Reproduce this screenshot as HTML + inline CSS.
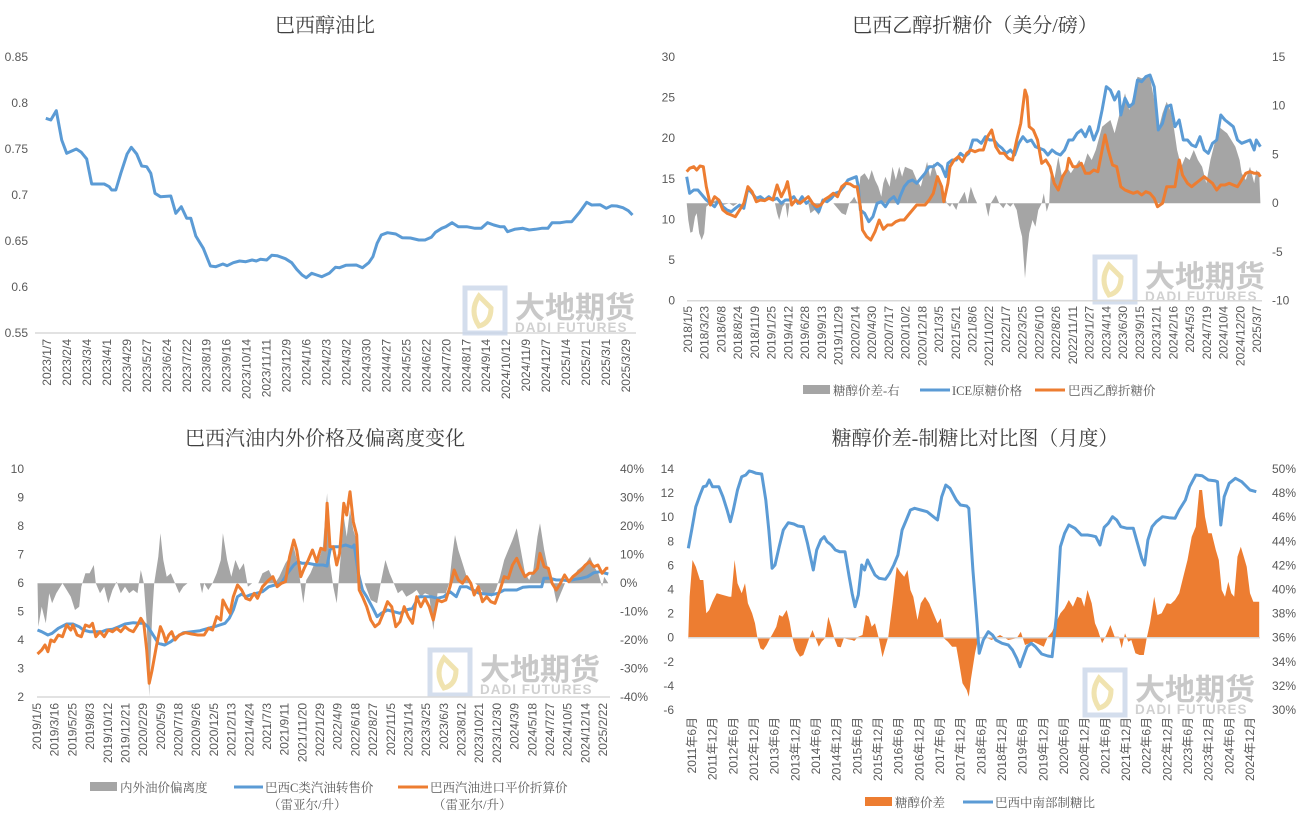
<!DOCTYPE html>
<html><head><meta charset="utf-8">
<style>
html,body{margin:0;padding:0;background:#fff;}
svg{display:block;font-family:"Liberation Sans","Noto Sans CJK SC",sans-serif;}
.t{font-size:20px;fill:#404040;text-anchor:middle;font-family:"Liberation Serif","Noto Serif CJK SC",serif;}
.ax{font-size:12px;fill:#595959;}
.lg{font-size:12.5px;fill:#595959;font-family:"Liberation Serif","Noto Serif CJK SC",serif;}
</style></head><body>
<svg id="s" width="1304" height="823" viewBox="0 0 1304 823" xmlns="http://www.w3.org/2000/svg">
<rect width="1304" height="823" fill="#fff"/>
<text class="t" x="325" y="32">巴西醇油比</text>
<text class="t" x="975" y="32">巴西乙醇折糖价（美分/磅）</text>
<text class="t" x="325" y="445">巴西汽油内外价格及偏离度变化</text>
<text class="t" x="975" y="445">糖醇价差-制糖比对比图（月度）</text>
<g id="g"></g>
<!-- legends -->
<rect x="803" y="385" width="27" height="9" fill="#a5a5a5"/><text class="lg" x="833" y="395">糖醇价差-右</text>
<line x1="920" y1="390" x2="950" y2="390" stroke="#5b9bd5" stroke-width="3"/><text class="lg" x="952" y="395">ICE原糖价格</text>
<line x1="1035" y1="390" x2="1065" y2="390" stroke="#ed7d31" stroke-width="3"/><text class="lg" x="1068" y="395">巴西乙醇折糖价</text>

<rect x="90" y="782" width="27" height="9" fill="#a5a5a5"/><text class="lg" x="120" y="792">内外油价偏离度</text>
<line x1="234" y1="787" x2="263" y2="787" stroke="#5b9bd5" stroke-width="3"/><text class="lg" x="265" y="792">巴西C类汽油转售价</text><text class="lg" x="268" y="809">（雷亚尔/升）</text>
<line x1="398" y1="787" x2="428" y2="787" stroke="#ed7d31" stroke-width="3"/><text class="lg" x="430" y="792">巴西汽油进口平价折算价</text><text class="lg" x="433" y="809">（雷亚尔/升）</text>

<rect x="865" y="797" width="27" height="9" fill="#ed7d31"/><text class="lg" x="895" y="807">糖醇价差</text>
<line x1="963" y1="802" x2="993" y2="802" stroke="#5b9bd5" stroke-width="3"/><text class="lg" x="995" y="807">巴西中南部制糖比</text>
</svg>
<script>
var NS="http://www.w3.org/2000/svg",G=document.getElementById('g');
function el(n,a,txt){var e=document.createElementNS(NS,n);for(var k in a)e.setAttribute(k,a[k]);if(txt!=null)e.textContent=txt;G.appendChild(e);return e;}
function conv(p,ox,oy){var s=[];for(var i=0;i<p.length;i+=2)s.push((ox+p[i]/2.4).toFixed(1)+','+(oy+p[i+1]/3).toFixed(1));return s.join(' ');}
function line(p,ox,oy,c){el('polyline',{points:conv(p,ox,oy),fill:'none',stroke:c,'stroke-width':3,'stroke-linejoin':'round'});}
function area(p,ox,oy,c){el('polygon',{points:conv(p,ox,oy),fill:c});}
function yl(vals,x,y0,y1,anchor){for(var i=0;i<vals.length;i++){var y=y0+(y1-y0)*i/(vals.length-1);el('text',{'class':'ax',x:x,y:y+4,'text-anchor':anchor},vals[i]);}}
function xl(labs,x0,x1,y){for(var i=0;i<labs.length;i++){var x=x0+(x1-x0)*i/(labs.length-1);el('text',{'class':'ax',transform:'translate('+(x+4)+','+y+') rotate(-90)','text-anchor':'end'},labs[i]);}}
function wm(x,y){
 el('rect',{x:x,y:y,width:40,height:45,fill:'none',stroke:'#c9d6e8','stroke-width':5,opacity:0.8});
 el('path',{d:'M'+(x+14)+' '+(y+8)+' q-10 15 0 30 q12 -3 12 -18 z',fill:'none',stroke:'#f0e3b0','stroke-width':5});
 el('text',{x:x+50,y:y+30,'font-size':30,'font-weight':'bold',fill:'#c8c8c8'},'大地期货');
 el('text',{x:x+50,y:y+44,'font-size':13.5,'font-weight':'bold',fill:'#d0d0d0','letter-spacing':'1'},'DADI FUTURES');
}
/* ---------- Panel 1 ---------- */
yl(['0.85','0.8','0.75','0.7','0.65','0.6','0.55'],28,57,333,'end');
el('line',{x1:35,y1:333,x2:636,y2:333,stroke:'#d9d9d9','stroke-width':1.5});
xl('2023/1/7 2023/2/4 2023/3/4 2023/4/1 2023/4/29 2023/5/27 2023/6/24 2023/7/22 2023/8/19 2023/9/16 2023/10/14 2023/11/11 2023/12/9 2024/1/6 2024/2/3 2024/3/2 2024/3/30 2024/4/27 2024/5/25 2024/6/22 2024/7/20 2024/8/17 2024/9/14 2024/10/12 2024/11/9 2024/12/7 2025/1/4 2025/2/1 2025/3/1 2025/3/29'.split(' '),47,626,339);
wm(465,288);
line([110,235,122,240,135,212,148,300,160,340,183,327,195,337,208,357,220,432,250,432,262,440,268,450,278,450,290,400,305,342,315,322,328,342,340,378,352,380,362,400,372,460,385,470,410,468,422,520,435,500,448,535,458,535,470,588,488,625,505,678,518,680,535,672,545,677,560,668,575,663,590,665,605,660,615,663,625,658,640,660,652,646,665,647,685,656,700,668,712,688,725,705,735,713,748,700,760,705,772,710,790,700,805,682,815,683,830,676,855,675,870,683,885,668,895,650,905,610,915,585,930,578,950,582,965,593,985,594,1005,600,1020,600,1035,592,1045,577,1060,565,1070,560,1085,548,1100,560,1120,560,1140,565,1155,565,1170,548,1185,555,1200,560,1210,560,1218,575,1235,568,1255,565,1270,570,1285,568,1300,565,1315,565,1325,548,1345,548,1360,545,1372,545,1390,518,1408,487,1420,495,1440,494,1455,505,1468,497,1480,498,1495,503,1508,512,1518,525],0,40,'#5b9bd5');
/* ---------- Panel 2 ---------- */
yl(['30','25','20','15','10','5','0'],675,57,300.7,'end');
yl(['15','10','5','0','-5','-10'],1272,57,300.7,'start');
xl('2018/1/5 2018/3/23 2018/6/8 2018/8/24 2018/11/9 2019/1/25 2019/4/12 2019/6/28 2019/9/13 2019/11/29 2020/2/14 2020/4/30 2020/7/17 2020/10/2 2020/12/18 2021/3/5 2021/5/21 2021/8/6 2021/10/22 2022/1/7 2022/3/25 2022/6/10 2022/8/26 2022/11/11 2023/1/27 2023/4/14 2023/6/30 2023/9/15 2023/12/1 2024/2/16 2024/5/3 2024/7/19 2024/10/4 2024/12/20 2025/3/7'.split(' '),688,1257,306);
wm(1095,257);
area([88,490,92,540,97,578,102,575,108,530,112,520,118,580,124,600,130,580,135,500,145,490,160,480,175,495,190,490,200,498,210,490,300,490,305,520,310,540,318,500,325,490,330,535,335,490,380,490,385,520,395,510,405,525,415,490,440,490,450,505,460,520,470,525,478,490,485,480,490,470,498,490,505,410,515,400,525,420,532,390,540,420,548,440,555,470,560,430,565,410,575,440,582,380,590,420,598,380,605,410,612,380,620,385,630,390,640,420,650,440,660,390,665,365,672,410,680,370,690,410,700,430,708,470,712,490,720,500,725,490,735,510,740,490,755,455,762,490,770,440,778,470,785,490,805,490,812,530,818,490,830,465,838,490,848,505,855,490,865,500,872,490,880,510,887,560,893,590,900,715,905,640,910,580,918,540,925,560,932,510,940,490,945,460,952,515,958,490,962,390,970,420,980,350,990,420,1000,380,1010,400,1020,380,1030,360,1040,380,1050,340,1060,360,1070,330,1085,260,1095,250,1105,240,1115,280,1125,230,1132,200,1140,160,1150,210,1160,170,1170,110,1180,115,1190,110,1200,112,1210,180,1220,270,1230,220,1240,185,1250,215,1258,270,1265,330,1275,380,1285,350,1295,360,1305,330,1315,360,1325,380,1335,430,1345,360,1355,310,1365,260,1375,270,1385,280,1395,300,1405,320,1415,360,1420,400,1430,420,1440,380,1450,430,1455,390,1462,400,1465,490],650,40,'#a5a5a5');
el('line',{x1:687,y1:300.7,x2:1262,y2:300.7,stroke:'#d9d9d9','stroke-width':1.5});
line([88,410,95,460,105,450,115,450,125,465,135,480,145,490,155,500,165,480,175,500,185,510,195,515,205,505,215,495,225,505,235,445,245,460,255,475,265,470,275,480,285,470,295,480,305,475,315,490,325,480,335,480,345,470,355,490,365,470,375,490,385,480,395,500,405,515,415,480,425,485,435,475,445,460,455,455,465,440,475,420,485,415,495,410,500,440,505,510,515,520,525,545,535,530,545,490,555,485,565,500,575,480,585,470,595,490,600,470,610,440,620,425,630,420,640,430,650,415,660,400,670,380,680,380,690,370,700,380,710,410,715,370,725,360,735,360,745,340,755,350,765,340,775,300,785,300,795,310,805,290,815,300,825,300,835,315,845,325,855,340,865,330,875,345,885,310,895,290,905,305,915,300,925,320,935,325,945,330,955,345,965,330,975,340,985,345,995,330,1005,300,1015,300,1025,280,1035,270,1045,290,1055,260,1065,300,1075,270,1085,210,1095,140,1105,150,1115,180,1125,155,1130,225,1140,175,1150,200,1160,190,1170,120,1180,125,1190,110,1200,105,1210,140,1220,270,1230,250,1240,200,1250,195,1260,260,1270,240,1280,300,1290,300,1300,315,1310,320,1320,290,1330,330,1340,340,1350,310,1360,300,1370,225,1380,240,1390,250,1400,260,1410,300,1420,310,1430,305,1440,300,1450,330,1455,300,1465,320],650,40,'#5b9bd5');
line([88,395,95,385,105,380,112,390,120,378,128,380,135,440,145,495,155,470,165,480,175,510,185,520,195,525,205,530,215,510,225,490,235,440,245,455,255,485,265,480,275,482,285,475,295,480,305,435,315,470,325,445,330,425,340,495,350,480,360,490,370,480,380,470,390,490,400,500,410,495,420,478,430,470,440,460,450,470,460,440,470,430,480,432,490,440,497,440,505,500,510,570,520,590,530,600,540,575,550,540,560,568,570,555,580,555,590,545,600,540,610,540,620,525,630,510,640,495,650,495,660,495,670,480,680,460,690,410,700,440,705,485,715,430,720,380,730,360,740,350,750,365,760,340,770,330,780,335,790,330,800,330,810,290,820,270,830,320,840,340,850,340,860,355,870,360,880,300,890,250,900,150,905,170,910,260,920,270,930,300,940,370,950,360,960,380,970,430,980,450,990,410,1000,390,1005,355,1015,380,1025,380,1035,370,1045,400,1055,400,1065,390,1075,395,1085,330,1092,285,1100,330,1110,375,1120,380,1130,440,1140,450,1150,455,1160,460,1170,455,1180,465,1190,455,1200,460,1210,475,1218,500,1230,490,1240,440,1250,440,1260,440,1270,360,1278,405,1290,430,1300,440,1310,430,1320,420,1330,410,1340,420,1350,430,1360,450,1370,435,1380,435,1390,430,1400,435,1410,440,1420,420,1430,400,1440,395,1450,400,1460,400,1465,410],650,40,'#ed7d31');
/* ---------- Panel 3 ---------- */
yl(['10','9','8','7','6','5','4','3','2'],24,469,697,'end');
yl(['40%','30%','20%','10%','0%','-10%','-20%','-30%','-40%'],620,469,697,'start');
xl('2019/1/5 2019/3/16 2019/5/25 2019/8/3 2019/10/12 2019/12/21 2020/2/29 2020/5/9 2020/7/18 2020/9/26 2020/12/5 2021/2/13 2021/4/24 2021/7/3 2021/9/11 2021/11/20 2022/1/29 2022/4/9 2022/6/18 2022/8/27 2022/11/5 2023/1/14 2023/3/25 2023/6/3 2023/8/12 2023/10/21 2023/12/30 2024/3/9 2024/5/18 2024/7/27 2024/10/5 2024/12/14 2025/2/22'.split(' '),37,603,703);
wm(430,650);
area([90,400,92,530,100,470,110,520,118,430,125,460,135,430,150,400,160,420,170,440,180,480,190,470,195,410,205,370,215,370,225,345,230,400,240,430,250,410,260,460,270,420,280,395,290,430,300,410,310,430,320,420,330,430,338,360,345,400,352,520,358,740,365,500,370,400,380,320,385,250,392,330,400,380,410,370,420,400,430,430,440,410,450,400,480,400,485,430,490,400,500,420,510,400,520,370,530,330,535,250,545,330,555,380,565,330,575,360,585,340,595,410,605,400,620,400,630,370,645,360,660,400,670,380,685,340,695,320,705,290,715,345,728,460,735,390,745,370,755,340,765,330,775,290,785,130,792,340,800,410,808,460,815,360,825,200,832,260,840,180,848,240,856,270,862,400,875,400,890,450,905,460,915,390,925,330,935,370,945,400,955,430,965,420,975,440,990,430,1000,420,1010,440,1020,430,1030,435,1040,540,1050,430,1060,430,1070,430,1078,400,1085,320,1092,255,1100,300,1110,340,1120,380,1130,400,1140,400,1150,410,1160,430,1170,430,1180,440,1190,420,1200,380,1210,330,1220,300,1230,270,1240,235,1250,300,1260,370,1270,390,1280,360,1290,260,1296,220,1306,300,1316,360,1326,400,1336,460,1346,430,1356,400,1366,400,1376,380,1386,360,1396,350,1406,340,1416,320,1426,350,1436,370,1445,410,1450,380,1460,400],0,450,'#a5a5a5');
el('line',{x1:37,y1:697,x2:610,y2:697,stroke:'#d9d9d9','stroke-width':1.5});
line([90,540,100,545,115,555,125,550,140,535,160,522,175,522,190,530,200,540,215,545,230,545,245,545,255,540,270,538,285,530,300,522,320,518,335,520,345,520,355,530,370,560,380,580,395,585,410,575,425,560,440,548,460,545,480,542,500,535,520,528,540,520,550,505,560,480,570,440,580,432,590,440,600,435,615,430,630,425,645,410,660,405,675,400,690,370,705,345,715,335,725,340,740,340,760,345,775,345,785,348,792,300,800,290,815,290,830,285,845,292,850,285,860,370,870,420,880,440,895,475,905,500,915,490,930,480,945,485,960,490,975,480,990,475,1005,440,1020,440,1035,440,1050,445,1065,440,1080,425,1095,440,1105,410,1120,410,1135,420,1150,430,1165,432,1180,434,1195,430,1210,420,1225,420,1240,420,1255,412,1270,410,1285,410,1300,410,1305,385,1320,385,1335,390,1350,390,1365,392,1380,388,1395,385,1410,380,1425,368,1440,365,1460,372],0,450,'#5b9bd5');
line([90,612,100,600,108,585,115,605,122,570,130,575,140,555,150,560,160,525,170,540,175,525,185,555,195,560,205,525,215,530,222,520,230,560,240,545,250,560,260,540,270,545,280,535,290,545,300,530,310,540,320,545,330,525,338,505,345,520,352,600,358,700,365,660,375,590,385,530,392,550,398,575,405,555,412,545,420,570,430,555,445,548,460,552,475,555,490,555,500,535,510,540,520,500,530,510,535,450,545,475,552,490,560,440,570,405,580,420,590,445,600,450,610,430,618,445,630,410,645,390,655,380,665,410,675,400,685,395,695,320,705,270,712,300,722,380,730,355,740,330,750,300,760,335,770,295,780,300,785,160,792,290,800,290,808,345,815,310,825,160,832,195,840,125,848,215,856,255,862,420,870,440,880,470,890,510,900,530,910,520,920,490,930,455,940,470,950,530,960,515,970,470,980,500,990,520,1000,440,1010,470,1020,445,1030,470,1040,510,1050,450,1060,455,1070,450,1080,410,1090,360,1100,390,1110,400,1120,380,1130,400,1138,435,1148,410,1158,455,1168,440,1178,455,1188,460,1200,420,1210,380,1220,385,1230,345,1240,325,1250,355,1260,380,1270,370,1280,370,1290,355,1296,310,1306,350,1316,355,1325,400,1335,420,1345,400,1355,375,1365,395,1375,380,1385,370,1395,360,1405,345,1415,335,1425,350,1435,345,1445,370,1455,355,1460,355],0,450,'#ed7d31');
/* ---------- Panel 4 ---------- */
yl(['14','12','10','8','6','4','2','0','-2','-4','-6'],674,469,710,'end');
yl(['50%','48%','46%','44%','42%','40%','38%','36%','34%','32%','30%'],1272,469,710,'start');
var l4=[];for(var y=2011;y<=2024;y++){l4.push(y+'年6月');l4.push(y+'年12月');}
xl(l4,692,1250,717);
wm(1085,670);
area([92,563,95,440,102,330,110,350,120,390,128,390,135,490,142,480,150,455,160,430,175,435,190,440,195,440,203,330,210,400,220,430,228,400,235,460,245,490,252,520,258,565,265,595,272,600,280,585,288,565,295,550,303,530,310,495,318,500,328,480,335,515,342,565,350,600,360,620,368,615,375,590,382,565,390,540,396,560,405,590,412,575,420,565,428,500,435,530,442,565,450,590,458,592,465,565,475,568,485,570,490,573,500,560,510,555,518,495,525,500,532,530,540,520,550,570,558,622,565,590,572,560,582,460,592,350,600,365,610,380,618,360,625,420,632,440,642,510,650,460,660,440,670,460,680,490,690,520,698,505,705,565,715,575,725,590,735,590,742,640,750,700,760,720,765,740,770,690,780,610,788,565,800,560,820,570,840,555,860,570,880,565,890,545,900,585,920,575,945,590,955,560,965,545,975,515,985,490,995,475,1005,450,1015,470,1025,440,1035,445,1042,470,1050,420,1060,460,1068,520,1075,540,1085,580,1095,555,1105,525,1115,560,1125,560,1132,595,1140,550,1148,575,1155,570,1165,610,1175,615,1185,615,1192,565,1200,520,1210,440,1218,495,1228,490,1240,460,1250,462,1260,450,1270,430,1280,380,1290,330,1300,260,1310,230,1318,120,1325,120,1332,200,1340,250,1348,250,1358,300,1365,330,1372,420,1380,440,1388,395,1395,430,1402,440,1410,320,1418,290,1425,320,1432,350,1440,430,1448,455,1455,455,1462,455,1462,563],650,450,'#ed7d31');
el('line',{x1:688,y1:637.7,x2:1260,y2:637.7,stroke:'#d9d9d9','stroke-width':1.5});
line([92,295,100,240,110,170,120,135,128,110,135,108,142,90,150,110,165,110,175,140,185,180,193,215,200,180,210,120,220,80,230,75,238,63,245,65,255,70,268,72,278,150,285,240,293,355,300,345,310,290,320,240,332,218,345,222,355,228,368,230,378,280,385,320,392,360,400,300,410,270,418,260,425,275,435,285,445,300,455,305,468,305,478,380,485,430,492,470,500,435,508,345,515,360,522,330,530,350,540,375,550,385,565,388,575,370,585,345,595,315,605,240,615,210,625,180,635,175,650,180,665,185,680,200,690,210,700,140,710,105,720,115,735,150,745,165,760,168,765,175,775,360,785,520,790,610,800,570,812,545,822,555,830,570,845,580,860,585,870,600,880,625,888,650,895,625,905,590,915,580,925,590,940,612,955,618,965,620,975,500,985,290,995,250,1005,225,1020,235,1035,255,1050,255,1060,257,1070,260,1080,285,1090,232,1100,220,1110,200,1120,210,1130,230,1145,235,1160,235,1170,280,1180,325,1187,345,1195,270,1205,230,1215,215,1230,200,1245,203,1260,205,1270,180,1285,150,1295,110,1310,75,1325,77,1340,90,1355,92,1362,95,1370,225,1378,140,1390,100,1405,85,1420,95,1440,120,1455,125],650,450,'#5b9bd5');
</script>
</body></html>
